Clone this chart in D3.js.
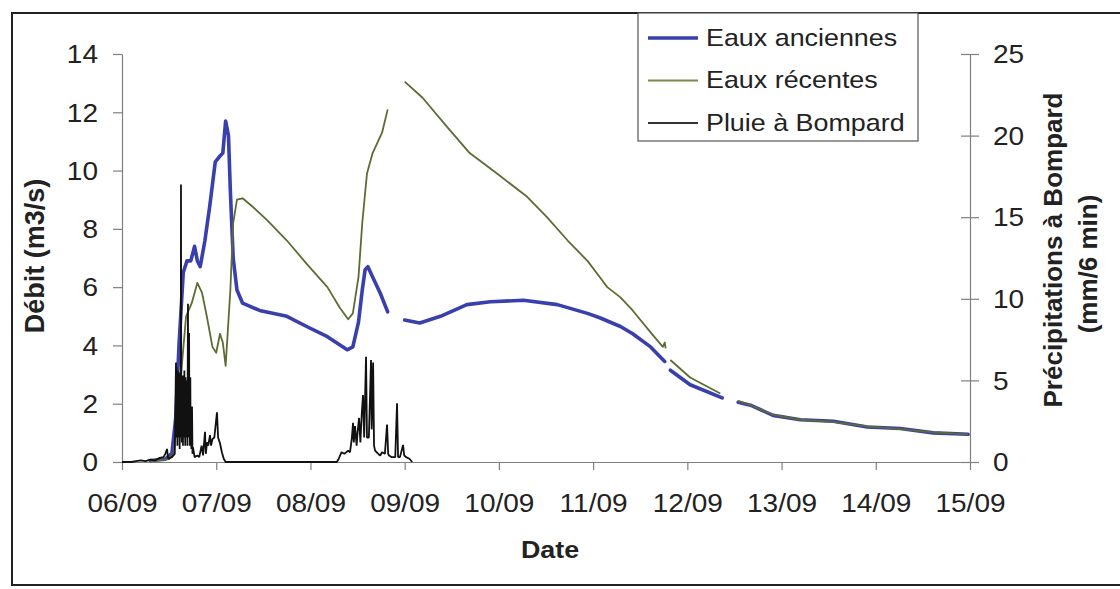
<!DOCTYPE html>
<html>
<head>
<meta charset="utf-8">
<script src="https://cdn.jsdelivr.net/npm/d3@7"></script>
<style>
  html, body { margin: 0; padding: 0; background: #fff; }
  svg { display: block; font-family: "Liberation Sans", Arial, sans-serif; }
</style>
</head>
<body>
<svg id="chart" width="1120" height="589"></svg>
<script>
// ---------- DATA (days after 06/09 00:00) ----------
const xTickLabels = ["06/09","07/09","08/09","09/09","10/09","11/09","12/09","13/09","14/09","15/09"];
const leftTicks = [0,2,4,6,8,10,12,14];
const rightTicks = [0,5,10,15,20,25];
const seriesNames = ["Eaux anciennes","Eaux récentes","Pluie à Bompard"];

// Eaux anciennes (m3/s); null = gap in record
const eauxAnciennes = [
  [0.30,0.05],[0.40,0.08],[0.46,0.10],[0.53,0.30],[0.57,1.5],[0.605,4.0],[0.65,6.5],[0.69,6.9],
  [0.73,6.9],[0.77,7.4],[0.80,6.9],[0.83,6.7],[0.88,7.6],[0.93,8.75],[0.99,10.3],[1.04,10.5],
  [1.07,10.6],[1.10,11.7],[1.13,11.2],[1.15,9.3],[1.18,7.0],[1.22,5.9],[1.28,5.45],[1.46,5.2],
  [1.75,5.0],[1.96,4.65],[2.18,4.3],[2.39,3.85],[2.45,3.95],[2.51,4.8],[2.55,5.9],[2.58,6.6],
  [2.61,6.7],[2.66,6.35],[2.74,5.8],[2.82,5.15],
  null,
  [3.00,4.87],[3.16,4.77],[3.38,5.0],[3.66,5.4],[3.91,5.5],[4.26,5.55],[4.62,5.4],[4.94,5.1],
  [5.07,4.95],[5.29,4.65],[5.42,4.4],[5.61,3.95],[5.76,3.45],
  null,
  [5.82,3.15],[6.03,2.65],[6.37,2.2],
  null,
  [6.54,2.05],[6.67,1.95],[6.91,1.6],[7.20,1.45],[7.55,1.4],[7.91,1.2],[8.26,1.15],[8.61,1.0],[8.98,0.95]
];

// Eaux récentes (m3/s)
const eauxRecentes = [
  [0.30,0.02],[0.50,0.1],[0.55,0.3],[0.60,2.0],[0.68,5.0],[0.74,5.45],[0.80,6.15],[0.85,5.8],
  [0.90,5.0],[0.96,3.95],[1.00,3.75],[1.04,4.4],[1.07,4.1],[1.10,3.3],[1.15,5.9],[1.18,8.2],
  [1.22,9.0],[1.28,9.05],[1.39,8.75],[1.54,8.3],[1.75,7.6],[1.96,6.8],[2.18,6.0],[2.31,5.3],
  [2.40,4.9],[2.45,5.1],[2.51,6.35],[2.55,8.2],[2.60,9.9],[2.66,10.6],[2.76,11.3],[2.82,12.1],
  null,
  [3.00,13.05],[3.19,12.5],[3.45,11.5],[3.69,10.6],[3.98,9.9],[4.30,9.1],[4.51,8.4],[4.73,7.6],
  [4.94,6.9],[5.07,6.35],[5.15,6.0],[5.29,5.65],[5.42,5.2],[5.61,4.45],[5.74,3.95],[5.76,4.1],[5.77,3.9],
  null,
  [5.82,3.5],[6.03,2.9],[6.35,2.35],
  null,
  [6.54,2.1],[6.67,1.95],[6.91,1.62],[7.20,1.45],[7.55,1.38],[7.91,1.22],[8.26,1.13],[8.61,1.02],[8.98,0.95]
];

// Pluie à Bompard (mm/6 min)
const pluieBompard = [
  [0,0],[0.10,0],[0.15,0.05],[0.20,0.1],[0.25,0.05],[0.30,0.15],[0.35,0.1],[0.40,0.25],[0.44,0.3],
  [0.46,0.5],[0.478,0.8],[0.49,0.2],[0.53,0.3],[0.56,0.5],
  [0.573,6.1],[0.576,1.5],[0.579,5.8],[0.582,2.0],[0.585,5.3],[0.588,1.0],[0.591,5.6],[0.594,2.5],
  [0.597,5.0],[0.600,1.5],[0.603,5.5],[0.606,3.0],[0.609,5.2],[0.612,0.8],[0.615,4.8],[0.618,2.0],
  [0.621,5.4],[0.624,1.5],[0.626,17.0],[0.629,2.0],[0.632,5.2],[0.635,1.2],[0.638,5.0],[0.641,3.0],
  [0.644,5.3],[0.647,1.0],[0.650,4.9],[0.653,2.5],[0.656,5.1],[0.659,1.5],[0.662,5.6],[0.665,2.0],
  [0.668,4.6],[0.671,1.0],[0.674,5.2],[0.677,2.5],[0.680,4.5],[0.683,1.5],[0.686,5.0],[0.689,2.0],
  [0.692,4.2],[0.695,1.0],[0.700,9.7],[0.703,2.0],[0.706,5.0],[0.709,1.5],[0.712,7.9],[0.715,2.0],
  [0.718,4.0],[0.721,1.0],[0.725,5.2],[0.728,1.2],[0.732,3.0],[0.736,0.8],[0.743,3.4],[0.748,0.5],
  [0.754,0.9],[0.77,0.3],[0.80,0.4],[0.82,0.3],[0.845,1.0],[0.86,0.4],[0.881,1.85],[0.89,0.5],
  [0.902,1.2],[0.915,1.0],[0.934,1.65],[0.945,1.0],[0.96,1.4],[0.98,1.5],[1.008,3.05],[1.02,1.5],
  [1.04,1.15],[1.06,0.6],[1.08,0.2],[1.10,0],
  [2.28,0],[2.30,0.2],[2.33,0.6],[2.36,0.5],[2.40,0.7],[2.42,0.6],[2.44,1.5],[2.452,2.4],[2.46,1.2],
  [2.473,2.2],[2.49,1.0],[2.50,1.8],[2.516,2.7],[2.53,1.2],[2.545,3.0],[2.558,4.1],[2.57,1.5],
  [2.59,6.45],[2.60,1.5],[2.62,1.5],[2.643,6.25],[2.65,2.0],[2.665,6.1],[2.675,1.0],[2.686,0.7],
  [2.72,0.5],[2.74,0.4],[2.76,0.6],[2.79,0.5],[2.813,2.3],[2.825,0.5],[2.834,0.4],[2.86,0.3],
  [2.90,0.3],[2.919,3.6],[2.93,0.3],[2.95,0.3],[2.983,1.05],[2.995,0.4],[3.015,0.3],[3.05,0.2],[3.08,0]
];

// ---------- DRAW ----------
const SX = 1.12; // horizontal text stretch of the original picture
const svg = d3.select("#chart");
const colors = { old: "#3a3fae", rec: "#5d6c33", rain: "#111" };

// outer frame
svg.append("rect").attr("x", 12).attr("y", 13).attr("width", 1120).attr("height", 572)
  .attr("fill", "none").attr("stroke", "#222").attr("stroke-width", 2);

const x = d3.scaleLinear().domain([0, 9]).range([122, 970]);
const yL = d3.scaleLinear().domain([0, 14]).range([462, 54]);
const yR = d3.scaleLinear().domain([0, 25]).range([462, 54]);

function stretch(sel) {
  sel.each(function() {
    const t = d3.select(this);
    const xx = +t.attr("x") || 0;
    t.attr("x", xx / SX).attr("transform", `scale(${SX},1)`);
  });
}
function styleAxis(g) {
  g.select(".domain").attr("stroke", "#808080").attr("stroke-width", 1.2);
  g.selectAll(".tick line").attr("stroke", "#808080").attr("stroke-width", 1.2);
  g.selectAll(".tick text").attr("fill", "#222").style("font-size", "25px");
}

// left axis
const gL = svg.append("g").attr("transform", "translate(122,0)")
  .call(d3.axisLeft(yL).tickValues(leftTicks).tickSize(9).tickSizeOuter(0).tickPadding(15));
styleAxis(gL);
gL.selectAll(".tick text").attr("dy", "0.35em");
stretch(gL.selectAll(".tick text"));

// right axis (ticks cross the axis)
const gR = svg.append("g").attr("transform", "translate(970,0)")
  .call(d3.axisRight(yR).tickValues(rightTicks).tickSize(9).tickSizeOuter(0).tickPadding(14));
styleAxis(gR);
gR.selectAll(".tick line").attr("x1", -9);
gR.selectAll(".tick text").attr("dy", "0.35em");
stretch(gR.selectAll(".tick text"));

// bottom axis
const gB = svg.append("g").attr("transform", "translate(0,462)")
  .call(d3.axisBottom(x).tickValues(d3.range(xTickLabels.length))
    .tickFormat(i => xTickLabels[i]).tickSize(8).tickSizeOuter(0));
styleAxis(gB);
gB.selectAll(".tick text").attr("y", 50).attr("dy", 0);
stretch(gB.selectAll(".tick text"));

// axis titles
svg.append("text").attr("x", 550 / SX).attr("y", 558).attr("transform", `scale(${SX},1)`)
  .attr("text-anchor", "middle").style("font-size", "24px").style("font-weight", "bold")
  .attr("fill", "#222").text("Date");
svg.append("text").attr("transform", "translate(44,256) rotate(-90)")
  .attr("text-anchor", "middle").style("font-size", "27px").style("font-weight", "bold")
  .attr("fill", "#222").text("Débit (m3/s)");
svg.append("text").attr("transform", "translate(1062,250) rotate(-90)")
  .attr("text-anchor", "middle").style("font-size", "26px").style("font-weight", "bold")
  .attr("fill", "#222").text("Précipitations à Bompard");
svg.append("text").attr("transform", "translate(1097,264) rotate(-90)")
  .attr("text-anchor", "middle").style("font-size", "26px").style("font-weight", "bold")
  .attr("fill", "#222").text("(mm/6 min)");

// series
const lineL = d3.line().defined(d => d !== null).x(d => x(d[0])).y(d => yL(d[1]));
const lineR = d3.line().defined(d => d !== null).x(d => x(d[0])).y(d => yR(d[1]));

svg.append("path").datum(eauxAnciennes).attr("d", lineL)
  .attr("fill", "none").attr("stroke", colors.old).attr("stroke-width", 3.6)
  .attr("stroke-linejoin", "round").attr("stroke-linecap", "round");
svg.append("path").datum(eauxRecentes).attr("d", lineL)
  .attr("fill", "none").attr("stroke", colors.rec).attr("stroke-width", 1.8)
  .attr("stroke-linejoin", "round");
svg.append("path").datum(pluieBompard).attr("d", lineR)
  .attr("fill", "none").attr("stroke", colors.rain).attr("stroke-width", 1.8)
  .attr("stroke-linejoin", "bevel");

// legend
const lg = svg.append("g");
lg.append("rect").attr("x", 638).attr("y", 13).attr("width", 280).attr("height", 128)
  .attr("fill", "#fff").attr("stroke", "#555").attr("stroke-width", 1.2);
const legColors = [colors.old, "#7d8a4c", "#333"];
const legWidths = [3.4, 1.8, 1.8];
seriesNames.forEach((name, i) => {
  const cy = 38 + i * 42.5;
  lg.append("line").attr("x1", 648).attr("x2", 698).attr("y1", cy).attr("y2", cy)
    .attr("stroke", legColors[i]).attr("stroke-width", legWidths[i]);
  lg.append("text").attr("x", 706 / SX).attr("y", cy + 8).attr("transform", `scale(${SX},1)`)
    .style("font-size", "24px").attr("fill", "#222").text(name);
});
</script>
</body>
</html>
